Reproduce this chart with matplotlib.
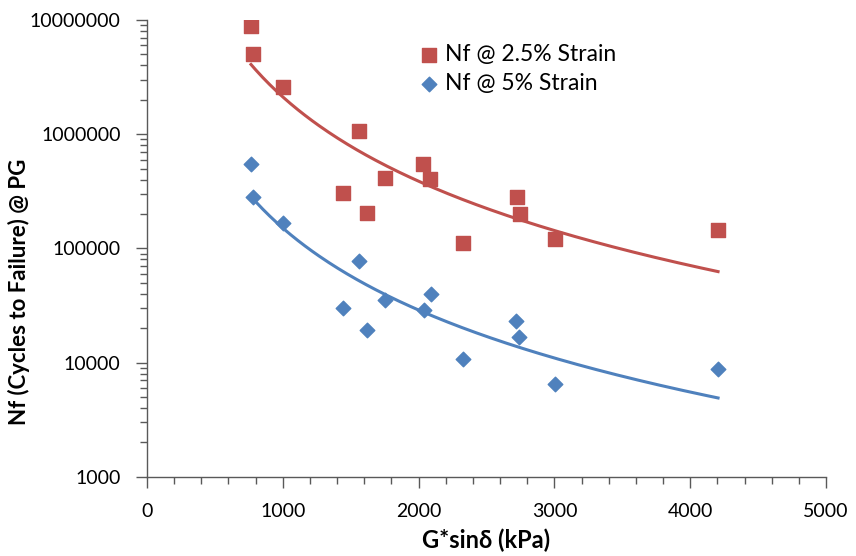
import numpy as np
import matplotlib
matplotlib.use('Agg')
import matplotlib.pyplot as plt
from matplotlib.ticker import FixedLocator, FuncFormatter, LogLocator, NullFormatter

plt.rcParams['font.family'] = ['Lato', 'DejaVu Sans']

# G*sin(delta) in kPa, shared by both strain levels
gsin = [766, 780, 1001, 1561, 1443, 1620, 1753, 2032, 2084, 2327, 2725, 2747, 3004, 4205]
gsin_5 = [766, 780, 1001, 1561, 1443, 1620, 1753, 2040, 2091, 2327, 2717, 2739, 3004, 4205]

# cycles to failure
nf_25 = [8.86e6, 5.03e6, 2.58e6, 1.06e6, 3.03e5, 2.03e5, 4.1e5, 5.46e5, 4.03e5,
         1.11e5, 2.8e5, 1.99e5, 1.2e5, 1.44e5]
nf_5 = [5.46e5, 2.8e5, 1.66e5, 7.7e4, 2.98e4, 1.91e4, 3.5e4, 2.86e4, 3.95e4,
        1.08e4, 2.29e4, 1.69e4, 6.5e3, 8.7e3]

red = '#C0504D'
blue = '#4F81BD'

fig = plt.figure(figsize=(8.56, 5.56), dpi=100)
ax = fig.add_axes([0.1717, 0.1426, 0.7933, 0.8214])


def power_fit(x, y):
    # Excel-style power trendline: fit in log-log space
    b, a = np.polyfit(np.log10(x), np.log10(y), 1)
    xs = np.linspace(min(x), max(x), 200)
    return xs, 10 ** (a + b * np.log10(xs))


xs, ys = power_fit(gsin, nf_25)
ax.plot(xs, ys, color=red, lw=2.2)
xs, ys = power_fit(gsin_5, nf_5)
ax.plot(xs, ys, color=blue, lw=2.2)

ax.scatter(gsin, nf_25, marker='s', s=110, color=red, label='Nf @ 2.5% Strain', zorder=3)
ax.scatter(gsin_5, nf_5, marker='D', s=55, color=blue, label='Nf @ 5% Strain', zorder=3)

ax.set_yscale('log')
ax.set_xlim(0, 5000)
ax.set_ylim(1000, 1e7)
ax.yaxis.set_major_locator(FixedLocator([1e3, 1e4, 1e5, 1e6, 1e7]))
ax.yaxis.set_major_formatter(FuncFormatter(lambda v, p: '%d' % v))
ax.yaxis.set_minor_locator(LogLocator(base=10, subs=np.arange(2, 10)))
ax.yaxis.set_minor_formatter(NullFormatter())
ax.set_xticks(np.arange(0, 5001, 1000))
ax.set_xticks(np.arange(0, 5001, 200), minor=True)

for s in ['top', 'right']:
    ax.spines[s].set_visible(False)
for s in ['left', 'bottom']:
    ax.spines[s].set_color('#595959')
    ax.spines[s].set_linewidth(1.0)

ax.tick_params(which='major', length=8, width=1, color='#595959', labelsize=14, pad=11)
ax.tick_params(which='minor', length=5, width=1, color='#595959')

ax.set_xlabel('G*sinδ (kPa)', fontsize=17, fontweight='bold', labelpad=6)
ax.set_ylabel('Nf (Cycles to Failure) @ PG', fontsize=16, fontweight='bold')
ax.yaxis.set_label_coords(-0.172, 0.404)

ax.legend(loc='upper left', bbox_to_anchor=(0.385, 0.968), frameon=False, fontsize=16.5,
          handletextpad=0.2, borderaxespad=0, labelspacing=0.35, handlelength=1.0)

fig.savefig('out.png', dpi=100)
